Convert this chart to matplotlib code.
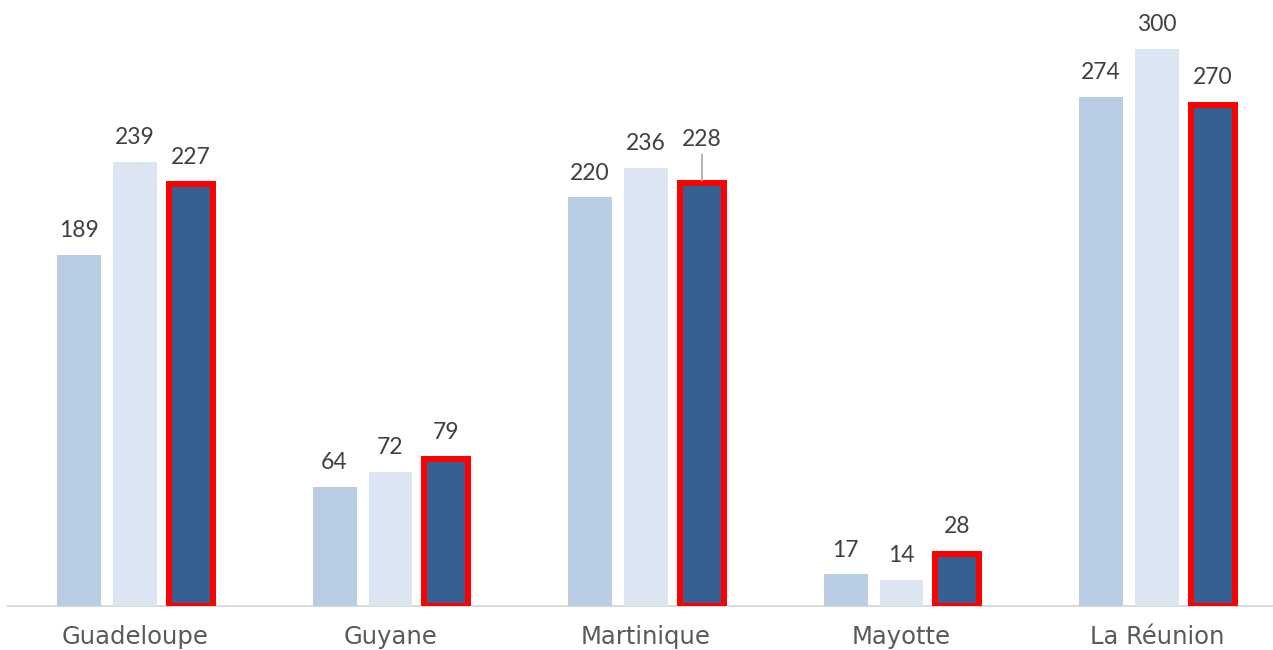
import matplotlib.pyplot as plt
import numpy as np

regions = ["Guadeloupe", "Guyane", "Martinique", "Mayotte", "La Réunion"]
serie_a = [189, 64, 220, 17, 274]
serie_b = [239, 72, 236, 14, 300]
serie_c = [227, 79, 228, 28, 270]

W, H = 1273, 650
fig = plt.figure(figsize=(W / 100, H / 100), dpi=100)
ax = fig.add_axes([8 / W, 44 / H, 1 - 8 / W, 606 / H])

x = np.arange(len(regions))
bw = 0.172
step = 0.219

ax.bar(x - step, serie_a, bw, color="#B9CDE5", zorder=2)
ax.bar(x, serie_b, bw, color="#DCE6F2", zorder=2)
ax.bar(x + step, serie_c, bw, color="#366092", edgecolor="#FF0000",
       linewidth=4.3, zorder=3)

lab_font = dict(fontsize=16.5, color="#404040", family=["Lato", "DejaVu Sans"],
                ha="center", va="bottom")
for xi, v in zip(x - step, serie_a):
    ax.annotate(str(v), (xi, v), xytext=(0, 10), textcoords="offset points", **lab_font)
for xi, v in zip(x, serie_b):
    ax.annotate(str(v), (xi, v), xytext=(0, 10), textcoords="offset points", **lab_font)
for i, (xi, v) in enumerate(zip(x + step, serie_c)):
    if regions[i] == "Martinique":
        ax.annotate(str(v), (xi, v + 1), xytext=(0, 22), textcoords="offset points",
                    arrowprops=dict(arrowstyle="-", color="#A6A6A6", lw=1.2,
                                    shrinkA=1, shrinkB=0), **lab_font)
    else:
        ax.annotate(str(v), (xi, v), xytext=(0, 12), textcoords="offset points", **lab_font)

ax.set_xlim(-0.497, 4.454)
ax.set_ylim(0, 326.3)
ax.set_xticks(x)
ax.set_xticklabels(regions, fontsize=17.5, color="#595959", family="DejaVu Sans")
ax.tick_params(axis="x", length=0, pad=14)
ax.set_yticks([])
for s in ["top", "right", "left"]:
    ax.spines[s].set_visible(False)
ax.spines["bottom"].set_color("#D9D9D9")
ax.spines["bottom"].set_linewidth(1.5)
ax.spines["bottom"].set_zorder(1)

fig.savefig("out.png", dpi=100)
